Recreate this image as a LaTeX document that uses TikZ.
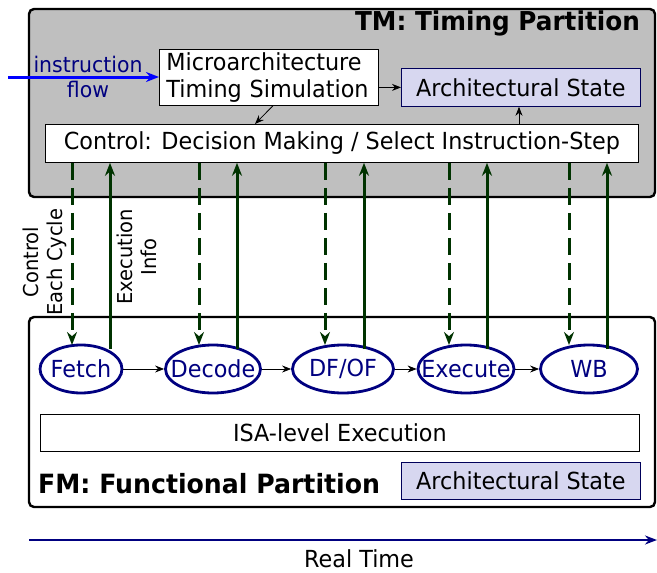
\documentclass[tikz,border=0pt]{standalone}
\usepackage{fontspec}
\setmainfont{DejaVu Sans}[FakeStretch=0.95]
\usetikzlibrary{arrows.meta,shapes.geometric}
\definecolor{navy}{RGB}{0,0,128}
\definecolor{darkgrn}{RGB}{0,51,0}
\definecolor{lav}{RGB}{215,215,240}
\definecolor{panelgray}{RGB}{191,191,191}
\newcommand{\stagetext}[1]{\makebox[0pt]{#1}}
\begin{document}
\begin{tikzpicture}[x=1pt,y=-1pt,
  every node/.style={font=\fontsize{23.5}{27}\selectfont, inner sep=0pt},
  partition/.style={draw=black, line width=2.4pt, rounded corners=5pt},
  plainbox/.style={draw=black, fill=white, line width=0.8pt},
  statebox/.style={draw=navy!70!black, fill=lav, line width=0.8pt},
  stage/.style={ellipse, draw=navy, line width=2.8pt, fill=white, text=navy,
    minimum width=82pt, minimum height=48pt},
  thin arrow/.style={-{Stealth[length=9pt,width=7pt]}, line width=0.8pt},
  ctrl/.style={darkgrn, line width=3pt, dash pattern=on 17pt off 8pt,
    -{Stealth[length=13pt,width=10pt]}},
  info/.style={darkgrn, line width=3pt, -{Stealth[length=13pt,width=10pt]}},
  sidelabel/.style={font=\fontsize{20.5}{24}\selectfont, rotate=90, align=center}]
\useasboundingbox (0,0) rectangle (657,573);

% Timing partition
\draw[partition, fill=panelgray] (29,9) rectangle (655,197);
\node[anchor=east, font=\fontsize{26}{30}\selectfont\bfseries] (tmtitle) at (640,23) {TM: Timing Partition};
\node[plainbox, minimum width=219pt, minimum height=56pt, text width=205pt, inner xsep=7pt,
  align=left, anchor=north west] (micro) at (159,49)
  {Microarchitecture\\Timing Simulation};
\node[statebox, minimum width=239pt, minimum height=38pt, anchor=north west] (tmstate) at (401,68) {Architectural State};
\node[plainbox, minimum width=593pt, minimum height=38pt, anchor=north west] (control) at (45,124)
  {Control: Decision Making / Select Instruction-Step};

% instruction flow
\coordinate (flowstart) at (8,77);
\draw[blue, line width=3pt, -{Stealth[length=13pt,width=10pt]}] (flowstart) -- (micro.west |- flowstart);
\node[text=navy, align=center, font=\fontsize{21.5}{25}\selectfont] (flowlbl) at (88,77) {instruction\\flow};

\draw[thin arrow] (micro.east |- tmstate.west) -- (tmstate.west);
\draw[thin arrow] ([xshift=4pt]micro.south) -- (control.north -| 255,0);
\draw[thin arrow] (control.north -| 519,0) -- (tmstate.south -| 519,0);

% Functional partition
\draw[partition, fill=white] (29,317) rectangle (655,507);
\node[stage] (fetch) at (81,369) {\stagetext{Fetch}};
\node[stage, minimum width=95pt] (decode) at (213,369) {\stagetext{Decode}};
\node[stage, minimum width=101pt] (dfof) at (343,369) {\stagetext{DF/OF}};
\node[stage, minimum width=96pt] (exec) at (466,369) {\stagetext{Execute}};
\node[stage, minimum width=97pt] (wb) at (589,369) {\stagetext{WB}};
\foreach \a/\b in {fetch/decode, decode/dfof, dfof/exec, exec/wb}
  \draw[thin arrow] (\a) -- (\b);

\node[plainbox, minimum width=599pt, minimum height=37pt, anchor=north west] (isa) at (40,414) {ISA-level Execution};
\node[anchor=west, font=\fontsize{26.5}{30}\selectfont\bfseries] (fmtitle) at (38,484) {FM: Functional Partition};
\node[statebox, minimum width=239pt, minimum height=37pt, anchor=north west] (fmstate) at (401,462) {Architectural State};

% Control and execution-info links
\foreach \n/\d/\u in {fetch/72/110, decode/199/237, dfof/325/364, exec/449/487, wb/569/607}{
  \draw[ctrl] (control.south -| \d,0) -- (\d,345);
  \draw[info] (\u,349) -- (control.south -| \u,0);
}
\node[sidelabel] (ctrllbl) at (45,262) {Control\\Each Cycle};
\node[sidelabel] (infolbl) at (137,257) {Execution\\Info};

% Time axis
\coordinate (tstart) at (29,540);
\coordinate (tend) at (657,540);
\draw[navy, line width=2pt, -{Stealth[length=12pt,width=9pt]}] (tstart) -- (tend);
\node (timelbl) at (359,559) {Real Time};
\end{tikzpicture}
\end{document}
